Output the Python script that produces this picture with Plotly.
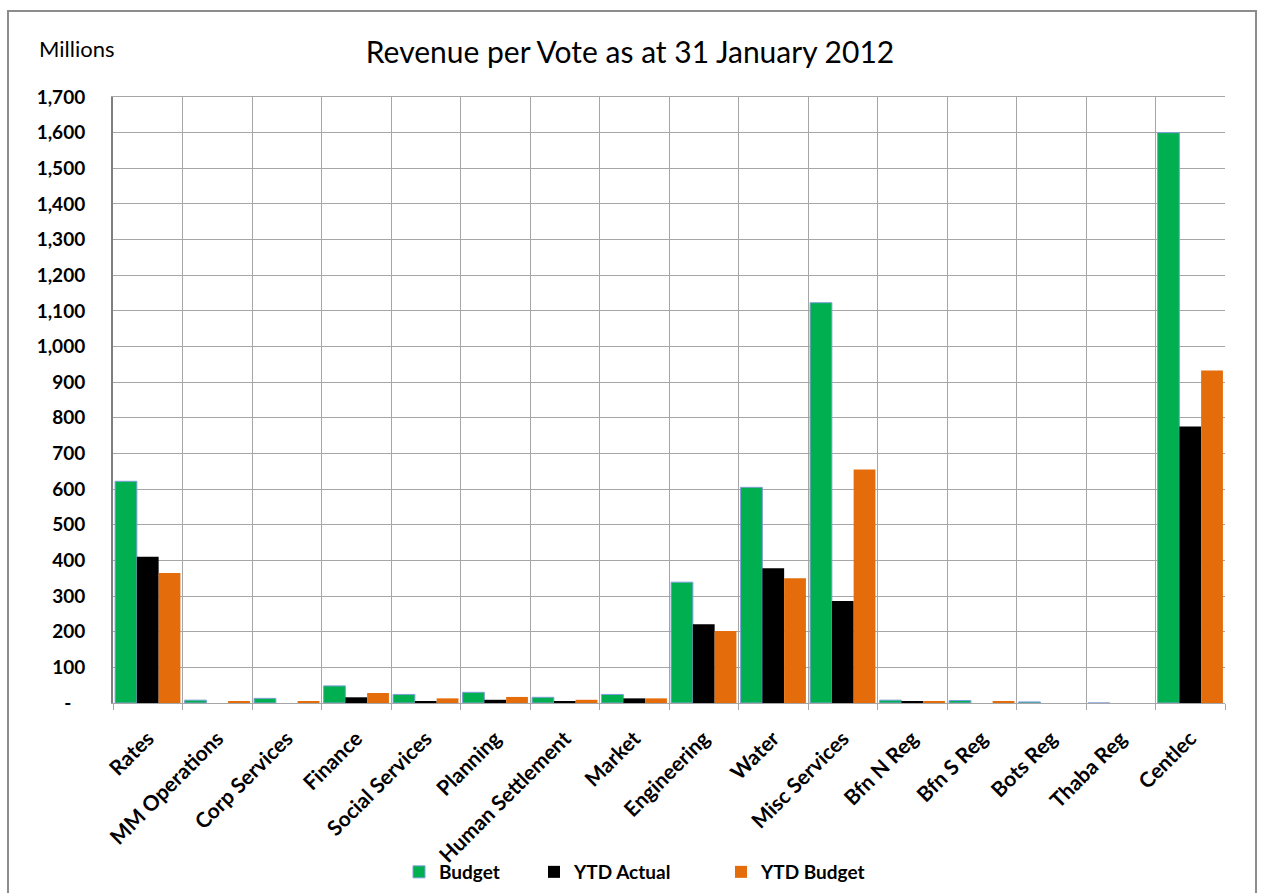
import plotly.graph_objects as go

# Revenue per vote, in millions of rand
votes = ["Rates", "MM Operations", "Corp Services", "Finance", "Social Services",
         "Planning", "Human Settlement", "Market", "Engineering", "Water",
         "Misc Services", "Bfn N Reg", "Bfn S Reg", "Bots Reg", "Thaba Reg", "Centlec"]

budget = [622, 8, 13, 48, 24, 30, 16, 24, 339, 605, 1123, 8, 7, 3, 0, 1600]
ytd_actual = [410, 0, 0, 16, 5, 9, 5, 13, 221, 378, 286, 5, 0, 0, 0, 776]
ytd_budget = [365, 4, 4, 28, 13, 17, 9, 13, 202, 350, 655, 4, 4, 0, 0, 933]

y_ticks = list(range(0, 1701, 100))
y_tick_text = ["-\u00a0\u00a0\u00a0"] + [f"{v:,}" for v in y_ticks[1:]]

FONT = "Lato"
GRID = "#A6A6A6"

W, H = 1264, 903
K = H / 893.0  # layout units per displayed pixel, vertically


def ys(p):
    return p * K


L, R = 113, 39
T, B = ys(96), H - ys(702)
pw, ph = W - L - R, H - T - B


def px_x(p):
    return (p - L) / pw


def px_y(p):
    return (H - B - ys(p)) / ph


fig = go.Figure()
fig.add_bar(name="Budget", x=votes, y=budget, legend="legend", showlegend=True,
            marker=dict(color="#00B050", line=dict(color="#7F9FD9", width=1)))
fig.add_bar(name="YTD Actual", x=votes, y=ytd_actual, legend="legend2", showlegend=True,
            marker=dict(color="#000000", line=dict(width=0)))
fig.add_bar(name="YTD Budget", x=votes, y=ytd_budget, legend="legend3", showlegend=True,
            marker=dict(color="#E46C0A", line=dict(width=0)))

legend_style = dict(orientation="h", xanchor="left", yanchor="middle",
                    y=px_y(871), itemwidth=30,
                    font=dict(family=FONT, size=19, weight="bold"),
                    bgcolor="rgba(0,0,0,0)")

fig.update_layout(
    width=W, height=H, showlegend=True,
    margin=dict(l=L, r=R, t=T, b=B),
    paper_bgcolor="white", plot_bgcolor="white",
    barmode="group", bargap=0.06, bargroupgap=0,
    font=dict(family=FONT, color="#000000"),
    title=dict(text="Revenue per Vote as at 31 January 2012",
               x=630 / W, xanchor="center", y=1 - ys(52) / H, yanchor="middle",
               font=dict(family=FONT, size=30, color="#000000")),
    legend=dict(legend_style, x=px_x(399)),
    legend2=dict(legend_style, x=px_x(534)),
    legend3=dict(legend_style, x=px_x(721)),
    xaxis=dict(
        type="category", tickson="boundaries", ticks="outside",
        ticklen=6, tickcolor=GRID, tickangle=-45, ticklabelstandoff=14,
        tickfont=dict(family=FONT, size=21, weight="bold"),
        showgrid=True, gridcolor=GRID, gridwidth=1,
        showline=True, linecolor=GRID, linewidth=1, mirror=True,
    ),
    yaxis=dict(
        range=[0, 1700], tickvals=y_ticks, ticktext=y_tick_text,
        tickfont=dict(family=FONT, size=19, weight="bold"),
        ticklabelstandoff=22,
        showgrid=True, gridcolor=GRID, gridwidth=1,
        showline=True, linecolor="#7F7F7F", linewidth=2,
        ticks="", zeroline=False,
    ),
    annotations=[dict(text="Millions", xref="paper", yref="paper",
                      x=px_x(37), xanchor="left", y=px_y(48), yanchor="middle",
                      showarrow=False, font=dict(family=FONT, size=22))],
    shapes=[dict(type="rect", xref="paper", yref="paper",
                 x0=px_x(8), x1=px_x(1256), y0=px_y(905), y1=px_y(10),
                 line=dict(color="#8C8C8C", width=2), layer="below")],
)

fig.write_html("out.html")
